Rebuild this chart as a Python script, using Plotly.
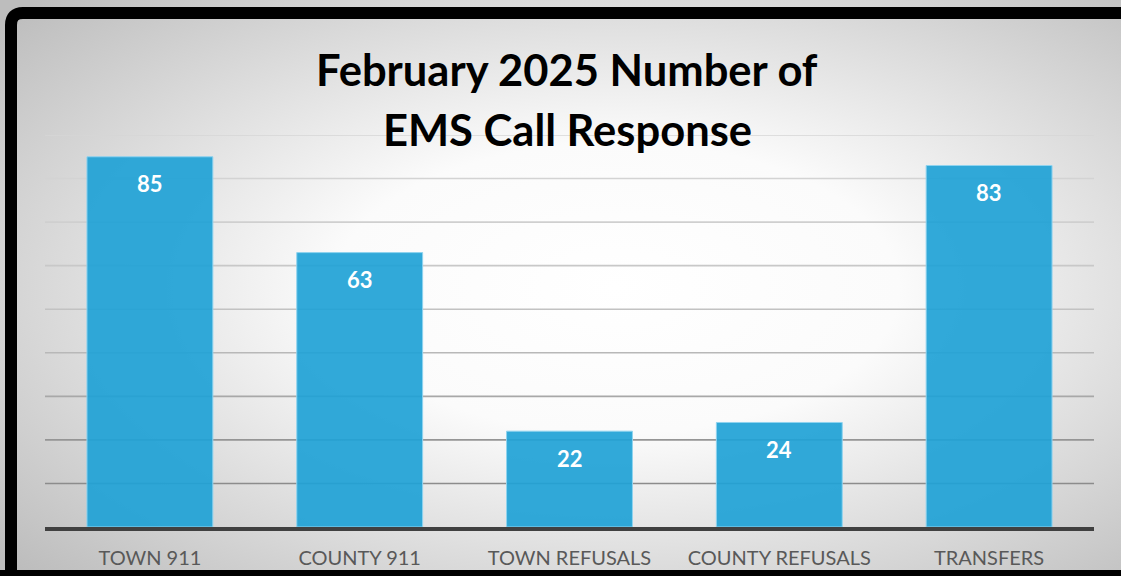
import base64
import plotly.graph_objects as go

# ---- data ----
categories = ["TOWN 911", "COUNTY 911", "TOWN REFUSALS", "COUNTY REFUSALS", "TRANSFERS"]
values = [85, 63, 22, 24, 83]
title_lines = ["February 2025 Number of", "EMS Call Response"]
grid_values = [10, 20, 30, 40, 50, 60, 70, 80, 90]
grid_colors = ["#8c8c8c", "#959595", "#a8a8a8", "#b8b8b8", "#c2c2c2",
               "#c8c8c8", "#cfcfcf", "#d3d3d3", "#d6d6d6"]

W, H = 1121, 576
FONT = "Lato"

def px_x(p):
    return p / W

def px_y(p):
    return 1 - p / H

# radial gradient background as an SVG image
svg = f'''<svg xmlns="http://www.w3.org/2000/svg" width="{W}" height="{H}">
<defs><radialGradient id="g" cx="0.55" cy="0.5" r="0.72">
<stop offset="0" stop-color="#ffffff"/>
<stop offset="0.35" stop-color="#fbfbfb"/>
<stop offset="1" stop-color="#bdbdbd"/>
</radialGradient></defs>
<rect x="0" y="0" width="{W}" height="{H}" fill="url(#g)"/>
</svg>'''
bg_src = "data:image/svg+xml;base64," + base64.b64encode(svg.encode()).decode()

fig = go.Figure()
fig.add_trace(go.Bar(
    x=categories, y=values,
    marker=dict(color="rgba(31,162,214,0.92)", line=dict(color="#8fd3ef", width=1)),
    hoverinfo="x+y",
))

annotations = []
for c, v in zip(categories, values):
    annotations.append(dict(
        x=c, y=v, xref="x", yref="y", text=str(v), showarrow=False,
        yanchor="middle", yshift=-27,
        font=dict(family=FONT, size=22, color="white", weight="bold"),
    ))
annotations.append(dict(x=px_x(567), y=px_y(69), xref="paper", yref="paper",
                        text=title_lines[0], showarrow=False, xanchor="center", yanchor="middle",
                        font=dict(family=FONT, size=43.5, color="black", weight="bold")))
annotations.append(dict(x=px_x(567), y=px_y(129), xref="paper", yref="paper",
                        text=title_lines[1], showarrow=False, xanchor="center", yanchor="middle",
                        font=dict(family=FONT, size=43.5, color="black", weight="bold")))

shapes = []
for gv, gc in zip(grid_values, grid_colors):
    shapes.append(dict(type="line", xref="paper", yref="y",
                       x0=px_x(45), x1=px_x(1094), y0=gv, y1=gv,
                       line=dict(color=gc, width=1.6), layer="below"))
# black frame with rounded top-left corner
x0, y0, x1, y1, rr = px_x(11), px_y(13), px_x(1135), px_y(576), 12
frame_path = (f"M {x0},{y1} L {x0},{px_y(13 + rr)} "
              f"Q {x0},{y0} {px_x(11 + rr)},{y0} L {x1},{y0}")
shapes.append(dict(type="path", xref="paper", yref="paper", path=frame_path,
                   line=dict(color="black", width=12), layer="above"))
shapes.append(dict(type="line", xref="paper", yref="paper",
                   x0=px_x(0), x1=px_x(1130), y0=px_y(576), y1=px_y(576),
                   line=dict(color="black", width=12), layer="above"))

fig.update_layout(
    width=W, height=H,
    margin=dict(l=0, r=0, t=0, b=0),
    paper_bgcolor="white",
    plot_bgcolor="rgba(0,0,0,0)",
    showlegend=False,
    bargap=0.4,
    font=dict(family=FONT),
    images=[dict(source=bg_src, xref="paper", yref="paper", x=0, y=1,
                 sizex=1, sizey=1, sizing="stretch", layer="below")],
    xaxis=dict(domain=[px_x(45), px_x(1094)], showgrid=False, zeroline=False,
               showline=True, linecolor="#404040", linewidth=4,
               ticks="", ticklabelstandoff=10,
               tickfont=dict(family=FONT, size=20, color="#595959")),
    yaxis=dict(domain=[px_y(527), px_y(135)], range=[0, 90], showgrid=False,
               zeroline=False, showticklabels=False, showline=False),
    annotations=annotations,
    shapes=shapes,
)

fig.write_html("out.html", config={"displayModeBar": False},
               post_script="document.body.style.margin='0';document.body.style.overflow='hidden';")
